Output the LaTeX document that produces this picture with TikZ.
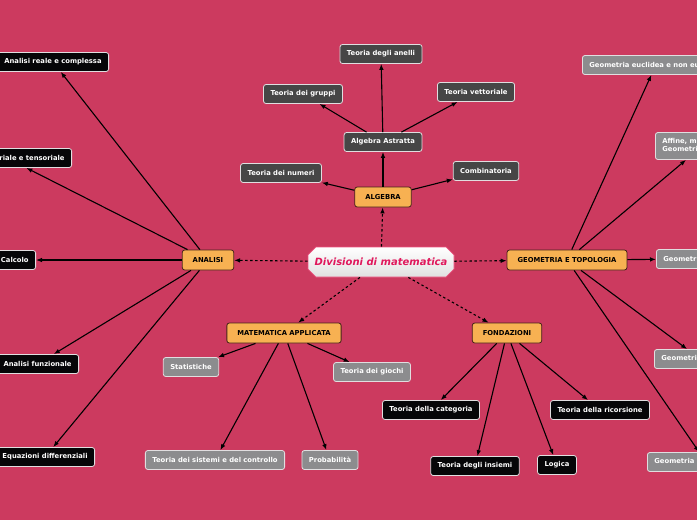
\documentclass[tikz,border=0pt]{standalone}
\usepackage{fontspec}
\setmainfont{DejaVu Sans}
\usepackage{tikz}
\usetikzlibrary{arrows.meta, positioning, shapes.misc}
\definecolor{mybg}{RGB}{204,58,95}
\definecolor{myorange}{RGB}{247,177,82}
\definecolor{mybrown}{RGB}{70,35,25}
\definecolor{mydark}{RGB}{70,70,70}
\definecolor{myblack}{RGB}{6,6,8}
\definecolor{mygray}{RGB}{140,140,142}
\definecolor{myedge}{RGB}{225,222,224}
\definecolor{mypink}{RGB}{224,24,92}
\definecolor{mypinkline}{RGB}{236,80,125}
\tikzset{
  base/.style={rectangle, rounded corners=2.5pt, minimum height=19pt,
    inner xsep=7pt, inner ysep=0pt, font=\fontsize{6.8}{8}\selectfont\bfseries,
    line width=0.8pt},
  topic/.style={base, draw=mybrown, fill=myorange, text=black,
    inner xsep=10.5pt, minimum height=20pt},
  darkbox/.style={base, draw=myedge, fill=mydark, text=white},
  blackbox/.style={base, draw=myedge, fill=myblack, text=white},
  graybox/.style={base, draw=myedge, fill=mygray, text=white},
  centre/.style={chamfered rectangle, chamfered rectangle xsep=9pt,
    chamfered rectangle ysep=4pt,
    draw=mypinkline, top color=white, bottom color=black!12, line width=0.8pt,
    minimum width=146pt, minimum height=30pt, inner sep=0pt,
    font=\fontsize{10}{12}\selectfont\bfseries\itshape, text=mypink},
  link/.style={-{Latex[length=6pt,width=4.6pt]}, line width=1.1pt, color=black},
  dlink/.style={link, dash pattern=on 2.5pt off 2.5pt}
}
\begin{document}
\begin{tikzpicture}[x=1pt, y=-1pt]
  \fill[mybg] (0,0) rectangle (697,520);
  \useasboundingbox (0,0) rectangle (697,520);

  % Main nodes
  \node[centre] (root) at (381,262) {Divisioni di matematica};
  \node[topic] (alg) at (383,197) {ALGEBRA};
  \node[topic] (ana) at (208,260) {ANALISI};
  \node[topic] (geo) at (567,260) {GEOMETRIA E TOPOLOGIA};
  \node[topic] (app) at (284,333) {MATEMATICA APPLICATA};
  \node[topic] (fon) at (507,333) {FONDAZIONI};

  % Algebra
  \node[darkbox] (astr) at (383,142) {Algebra Astratta};
  \node[darkbox] (anelli) at (381,54) {Teoria degli anelli};
  \node[darkbox] (gruppi) at (303,94) {Teoria dei gruppi};
  \node[darkbox] (vett) at (476,92) {Teoria vettoriale};
  \node[darkbox] (numeri) at (281,173) {Teoria dei numeri};
  \node[darkbox] (comb) at (486,171) {Combinatoria};

  % Analisi
  \node[blackbox, anchor=east] (reale) at (109,62) {Analisi reale e complessa};
  \node[blackbox, anchor=east] (tens) at (72,158) {Calcolo vettoriale e tensoriale};
  \node[blackbox, anchor=east] (calc) at (36,260) {Calcolo};
  \node[blackbox, anchor=east] (funz) at (79,364) {Analisi funzionale};
  \node[blackbox, anchor=east] (diff) at (95,457) {Equazioni differenziali};

  % Geometria e topologia
  \node[graybox, anchor=west] (eucl) at (582,65) {Geometria euclidea e non euclidea};
  \node[graybox, anchor=west, align=left, minimum height=27pt] (aff) at (655,146) {Affine, multilineare\\Geometria proiettiva};
  \node[graybox, anchor=west] (gdiff) at (656,259) {Geometria differenziale};
  \node[graybox, anchor=west] (galg) at (654,359) {Geometria algebrica};
  \node[graybox, anchor=west] (gcomp) at (647,462) {Geometria computazionale};

  % Matematica applicata
  \node[graybox] (stat) at (191,367) {Statistiche};
  \node[graybox] (giochi) at (372,372) {Teoria dei giochi};
  \node[graybox] (sist) at (215,460) {Teoria dei sistemi e del controllo};
  \node[graybox] (prob) at (330,460) {Probabilità};

  % Fondazioni
  \node[blackbox] (cat) at (431,410) {Teoria della categoria};
  \node[blackbox] (ric) at (600,410) {Teoria della ricorsione};
  \node[blackbox] (ins) at (475,466) {Teoria degli insiemi};
  \node[blackbox] (log) at (557,465) {Logica};

  % Dashed links from the centre
  \foreach \t in {alg, ana, geo, app, fon}
    \draw[dlink] (root) -- (\t);

  % Links
  \foreach \t in {astr, numeri, comb}
    \draw[link] (alg) -- (\t);
  \foreach \t in {anelli, gruppi, vett}
    \draw[link] (astr) -- (\t);
  \foreach \t in {reale, tens, calc, funz, diff}
    \draw[link] (ana) -- (\t);
  \foreach \t in {eucl, aff, gdiff, galg, gcomp}
    \draw[link] (geo) -- (\t);
  \foreach \t in {stat, giochi, sist, prob}
    \draw[link] (app) -- (\t);
  \foreach \t in {cat, ric, ins, log}
    \draw[link] (fon) -- (\t);
\end{tikzpicture}
\end{document}
